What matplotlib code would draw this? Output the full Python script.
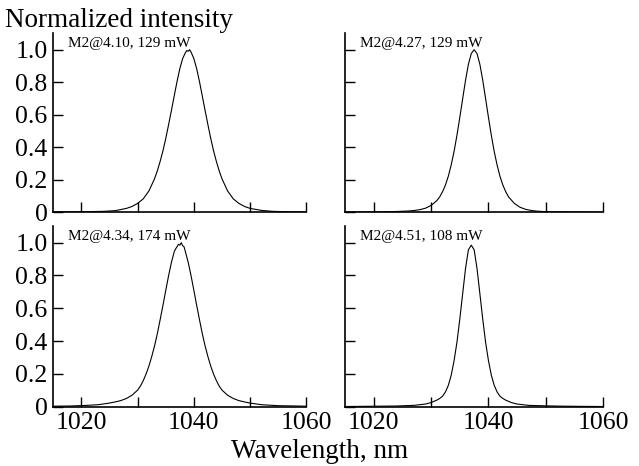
import matplotlib
matplotlib.use("Agg")
import matplotlib.pyplot as plt

plt.rcParams['font.family'] = ['Liberation Serif', 'DejaVu Serif']

# spectra (wavelength in nm, normalized intensity)
labels = ["M2@4.10, 129 mW", "M2@4.27, 129 mW", "M2@4.34, 174 mW", "M2@4.51, 108 mW"]

wl_1 = [1015, 1018, 1021, 1024, 1026, 1028, 1029, 1030, 1031, 1032, 1033, 1033.5,
        1034, 1034.5, 1035, 1035.5, 1036, 1036.5, 1037, 1037.5, 1038, 1038.5,
        1038.75, 1039, 1039.25, 1039.5, 1040, 1040.5, 1041, 1041.5, 1042, 1042.5,
        1043, 1043.5, 1044, 1044.5, 1045, 1046, 1047, 1048, 1049, 1050, 1052,
        1054, 1057, 1060]
int_1 = [0.002, 0.003, 0.004, 0.006, 0.010, 0.024, 0.036, 0.055, 0.083, 0.131, 0.206, 0.255,
         0.313, 0.378, 0.454, 0.538, 0.625, 0.715, 0.803, 0.883, 0.945, 0.982,
         0.995, 0.990, 1.000, 0.985, 0.945, 0.883, 0.803, 0.715, 0.625, 0.538,
         0.454, 0.378, 0.313, 0.255, 0.206, 0.131, 0.083, 0.055, 0.036, 0.024, 0.012,
         0.006, 0.003, 0.002]

wl_2 = [1015, 1018, 1021, 1024, 1026, 1027, 1028, 1029, 1030, 1031, 1031.5, 1032,
        1032.5, 1033, 1033.5, 1034, 1034.5, 1035, 1035.5, 1036, 1036.5, 1037,
        1037.5, 1038, 1038.5, 1039, 1039.5, 1040, 1040.5, 1041, 1041.5, 1042,
        1042.5, 1043, 1043.5, 1044.5, 1045.5, 1046.5, 1047.5, 1048.5, 1050, 1052,
        1055, 1060]
int_2 = [0.001, 0.002, 0.003, 0.005, 0.008, 0.011, 0.016, 0.025, 0.042, 0.072, 0.095, 0.127,
         0.168, 0.222, 0.291, 0.374, 0.473, 0.583, 0.698, 0.812, 0.910, 0.976,
         1.000, 0.976, 0.910, 0.812, 0.698, 0.583, 0.473, 0.374, 0.291, 0.222,
         0.168, 0.127, 0.095, 0.055, 0.031, 0.018, 0.011, 0.007, 0.004, 0.003,
         0.002, 0.001]

wl_3 = [1015, 1018, 1021, 1023, 1025, 1026, 1027, 1028, 1029, 1030, 1030.5, 1031,
        1031.5, 1032, 1032.5, 1033, 1033.5, 1034, 1034.5, 1035, 1035.5, 1036,
        1036.5, 1036.75, 1037, 1037.25, 1037.5, 1037.75, 1038, 1038.25, 1038.5,
        1039, 1039.5, 1040, 1040.5, 1041, 1041.5, 1042, 1042.5, 1043, 1043.5,
        1044, 1044.5, 1045, 1046, 1047, 1048, 1049, 1050, 1052, 1055, 1060]
int_3 = [0.003, 0.004, 0.008, 0.012, 0.022, 0.029, 0.037, 0.050, 0.070, 0.101, 0.126, 0.159,
         0.199, 0.247, 0.305, 0.370, 0.445, 0.530, 0.618, 0.709, 0.798, 0.879,
         0.944, 0.962, 0.975, 0.990, 0.985, 1.000, 0.982, 0.975, 0.944,
         0.879, 0.798, 0.709, 0.618, 0.530, 0.445, 0.370, 0.305, 0.247, 0.199,
         0.159, 0.126, 0.101, 0.070, 0.050, 0.037, 0.029, 0.022, 0.012, 0.006, 0.003]

wl_4 = [1015, 1018, 1021, 1024, 1027, 1029, 1030, 1031, 1031.5, 1032, 1032.5, 1033,
        1033.5, 1034, 1034.5, 1035, 1035.5, 1036, 1036.5, 1037, 1037.5, 1038,
        1038.5, 1039, 1039.5, 1040, 1040.5, 1041, 1041.5, 1042, 1042.5, 1043,
        1044, 1045, 1047, 1050, 1053, 1056, 1060]
int_4 = [0.001, 0.002, 0.003, 0.004, 0.008, 0.016, 0.025, 0.040, 0.050, 0.064, 0.090, 0.130,
         0.191, 0.280, 0.392, 0.534, 0.689, 0.843, 0.957, 0.985, 0.957, 0.843,
         0.689, 0.534, 0.392, 0.280, 0.191, 0.130, 0.090, 0.064, 0.050, 0.040,
         0.025, 0.016, 0.008, 0.005, 0.003, 0.002, 0.001]

x_ticks = [1020, 1030, 1040, 1050, 1060]
x_ticklabels = ["1020", "", "1040", "", "1060"]
y_ticks = [0, 0.2, 0.4, 0.6, 0.8, 1.0]
y_ticklabels = ["0", "0.2", "0.4", "0.6", "0.8", "1.0"]

wls = [wl_1, wl_2, wl_3, wl_4]
ints = [int_1, int_2, int_3, int_4]

fig = plt.figure(figsize=(6.39, 4.66), dpi=100)

# [left, bottom, width, height] per panel
boxes = [[0.0834, 0.5444, 0.396, 0.3839],
         [0.540, 0.5444, 0.404, 0.3839],
         [0.0834, 0.1273, 0.396, 0.3871],
         [0.540, 0.1273, 0.404, 0.3871]]

for i in range(4):
    ax = fig.add_axes(boxes[i])
    ax.plot(wls[i], ints[i], color='black', linewidth=0.8)
    ax.set_xlim(1015, 1060)
    ax.set_ylim(0, 1.1)
    ax.spines['top'].set_visible(False)
    ax.spines['right'].set_visible(False)
    ax.spines['left'].set_linewidth(1.2)
    ax.spines['bottom'].set_linewidth(1.2)
    ax.set_xticks(x_ticks)
    ax.set_yticks(y_ticks)
    ax.tick_params(direction='in', length=7, width=1.0, labelsize=18.5, pad=4)
    if i >= 2:
        ax.set_xticklabels(x_ticklabels)
    else:
        ax.set_xticklabels([])
    if i % 2 == 0:
        ax.set_yticklabels(y_ticklabels)
    else:
        ax.set_yticklabels([])
    ax.text(0.057, 0.925, labels[i], transform=ax.transAxes, fontsize=11,
            va='baseline', ha='left')

fig.text(0.008, 0.942, "Normalized intensity", fontsize=19.5, va='baseline', ha='left')
fig.text(0.5, 0.018, "Wavelength, nm", fontsize=19.5, va='baseline', ha='center')

fig.savefig("out.png", dpi=100)
